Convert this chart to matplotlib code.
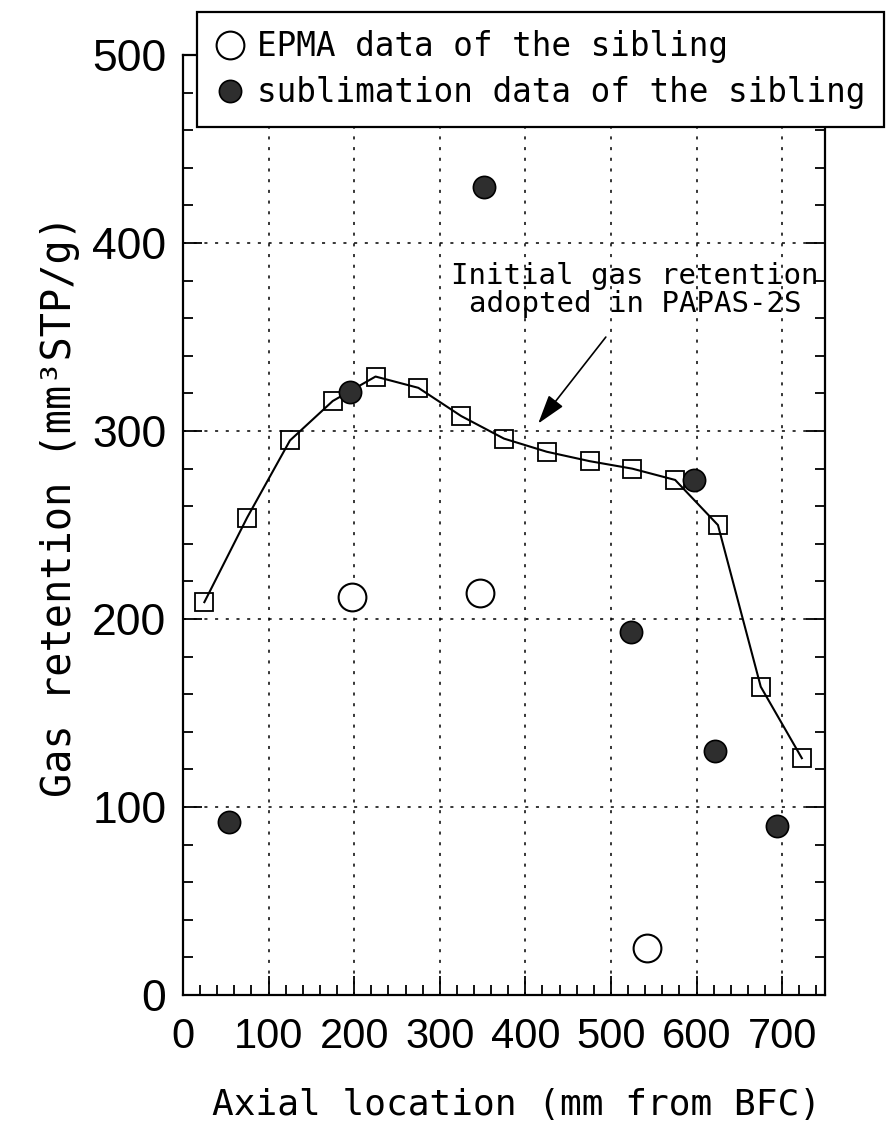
import matplotlib
matplotlib.use("Agg")
import matplotlib.pyplot as plt
from matplotlib.ticker import MultipleLocator
from matplotlib.lines import Line2D

# Initial gas retention adopted in PAPAS-2S (line with open squares)
pos_line = [25, 75, 125, 175, 225, 275, 325, 375, 425, 475, 525, 575, 625, 675, 723]
val_line = [209, 254, 295, 316, 329, 323, 308, 296, 289, 284, 280, 274, 250, 164, 126]

# EPMA data of the sibling (open circles)
pos_epma = [197, 347, 542]
val_epma = [212, 214, 25]

# sublimation data of the sibling (filled circles)
pos_subl = [54, 195, 352, 524, 597, 621, 694]
val_subl = [92, 321, 430, 193, 274, 130, 90]

x_ticks = [0, 100, 200, 300, 400, 500, 600, 700]
y_ticks = [0, 100, 200, 300, 400, 500]

mono = ["DejaVu Sans Mono"]
sans = ["Liberation Sans", "DejaVu Sans"]

fig = plt.figure(figsize=(8.86, 11.31), dpi=100)
ax = fig.add_axes([0.2065, 0.1202, 0.7246, 0.8311])

ax.plot(pos_line, val_line, color="black", lw=1.5, marker="s", ms=13,
        mfc="none", mec="black", mew=1.3, zorder=3)
ax.plot(pos_epma, val_epma, ls="none", marker="o", ms=20, mfc="white",
        mec="black", mew=1.5, zorder=4)
ax.plot(pos_subl, val_subl, ls="none", marker="o", ms=16, mfc="#2e2e2e",
        mec="black", mew=1.2, zorder=4)

ax.set_xlim(0, 750)
ax.set_ylim(0, 500)
ax.set_xticks(x_ticks)
ax.set_yticks(y_ticks)
ax.xaxis.set_minor_locator(MultipleLocator(20))
ax.yaxis.set_minor_locator(MultipleLocator(20))
ax.tick_params(which="both", direction="in", top=True, right=True, width=1.3)
ax.tick_params(which="major", length=14)
ax.tick_params(which="minor", length=7)
ax.tick_params(axis="x", pad=16)
ax.tick_params(axis="y", pad=12)
for lab in ax.get_xticklabels():
    lab.set_family(sans)
    lab.set_fontsize(30)
for lab in ax.get_yticklabels():
    lab.set_family(sans)
    lab.set_fontsize(32)
for sp in ax.spines.values():
    sp.set_linewidth(1.6)

ax.grid(True, which="major", color="black", lw=1.1, ls=(0, (2, 5)))
ax.set_axisbelow(True)

ax.set_xlabel("Axial location (mm from BFC)", family=mono, fontsize=26)
ax.set_ylabel("Gas retention (mm³STP/g)", family=mono, fontsize=29)
ax.xaxis.label.set_va("center")
ax.xaxis.set_label_coords(0.52, -0.117)
ax.yaxis.set_label_coords(-0.16, 0.52)

ax.text(528, 375, "Initial gas retention\nadopted in PAPAS-2S", ha="center",
        va="center", family=mono, fontsize=21, linespacing=1.0)
ax.annotate("", xy=(415, 304), xytext=(494, 350),
            arrowprops=dict(arrowstyle="-|>,head_length=0.9,head_width=0.28",
                            color="black", lw=1.2, shrinkA=0, shrinkB=0,
                            mutation_scale=20))

handles = [
    Line2D([], [], ls="none", marker="o", ms=20, mfc="white", mec="black", mew=1.5),
    Line2D([], [], ls="none", marker="o", ms=16, mfc="#2e2e2e", mec="black", mew=1.2),
]
leg = ax.legend(handles, ["EPMA data of the sibling", "sublimation data of the sibling"],
                loc="upper left", bbox_to_anchor=(197 / 886, 1 - 12 / 1131),
                bbox_transform=fig.transFigure, prop={"family": mono, "size": 23.5},
                fancybox=False, framealpha=1, edgecolor="black",
                handletextpad=0.4, handlelength=0.9, borderpad=0.55,
                labelspacing=0.4, borderaxespad=0)
leg.get_frame().set_linewidth(1.6)
leg.set_zorder(10)

fig.savefig("out.png", dpi=100)
